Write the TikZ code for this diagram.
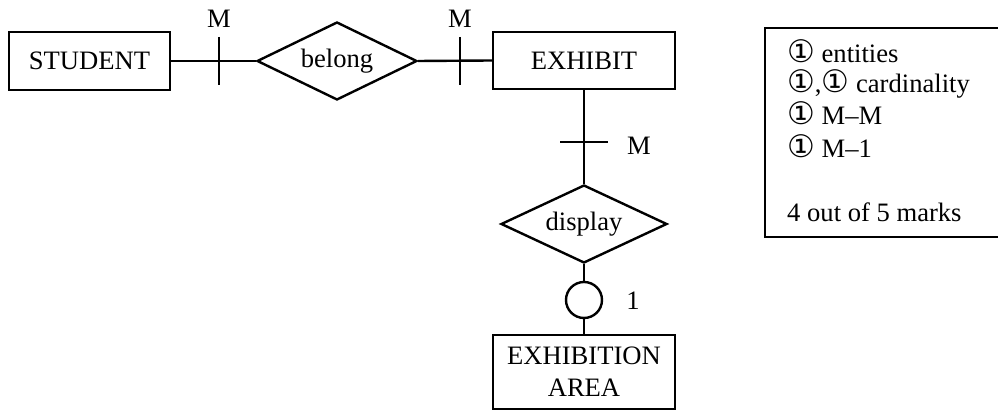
\documentclass[tikz,border=0pt]{standalone}
\usepackage{fontspec}
\setmainfont{Liberation Serif}
\newfontfamily\symfont{DejaVu Sans}
\usetikzlibrary{shapes.geometric}
\newcommand{\cnum}{{\symfont\fontsize{15.5}{16}\selectfont ①}}
\begin{document}
\begin{tikzpicture}[x=0.5pt,y=-0.5pt,line width=1.2pt,
  every node/.style={font=\fontsize{13.3}{16}\selectfont},
  entity/.style={draw,rectangle,inner sep=0pt,minimum width=91pt,minimum height=28.5pt},
  rel/.style={draw,diamond,aspect=2,inner sep=0pt,minimum height=39pt},
  card/.style={anchor=base,inner sep=0pt},
  legtext/.style={anchor=base west,inner sep=0pt}]
\clip (0,0) rectangle (998,410);
% entities
\node[entity,minimum width=80.5pt,minimum height=29pt] (student) at (89.5,61) {STUDENT};
\node[entity] (exhibit) at (584,60.5) {EXHIBIT};
\node[entity,minimum height=37pt,align=center] (area) at (584,372) {EXHIBITION\\AREA};
% relationships
\node[rel,minimum width=80pt] (belong) at (337,61) {belong};
\node[rel,minimum width=83pt] (display) at (584,224) {display};
\node[draw,circle,inner sep=0pt,minimum size=18pt] (opt) at (584,300) {};
% connectors
\draw (student.east) -- (belong.west);
\draw (belong.east) -- (exhibit.west);
\draw (exhibit.south) -- (display.north);
\draw (display.south) -- (opt.north);
\draw (opt.south) -- (area.north);
% ticks
\coordinate (t1) at (219,61);
\coordinate (t2) at (460,61);
\coordinate (t3) at (584,142);
\draw ([yshift=12pt]t1) -- ([yshift=-12pt]t1);
\draw ([yshift=12pt]t2) -- ([yshift=-12pt]t2);
\draw ([xshift=-12pt]t3) -- ([xshift=12pt]t3);
% cardinality labels
\node[card] (m1) at (219,28) {M};
\node[card] (m2) at (460,28) {M};
\node[card] (m3) at (639,155) {M};
\node[card] (one) at (633,310) {1};
% legend
\draw (1010,28) -- (765,28) -- (765,237) -- (1010,237);
\node[legtext] (l1) at (786,63) {\cnum{} entities};
\node[legtext] (l2) at (786,93) {\cnum,\cnum{} cardinality};
\node[legtext] (l3) at (786,125) {\cnum{} M–M};
\node[legtext] (l4) at (786,158) {\cnum{} M–1};
\node[legtext] (l5) at (786,222) {4 out of 5 marks};
\end{tikzpicture}
\end{document}
